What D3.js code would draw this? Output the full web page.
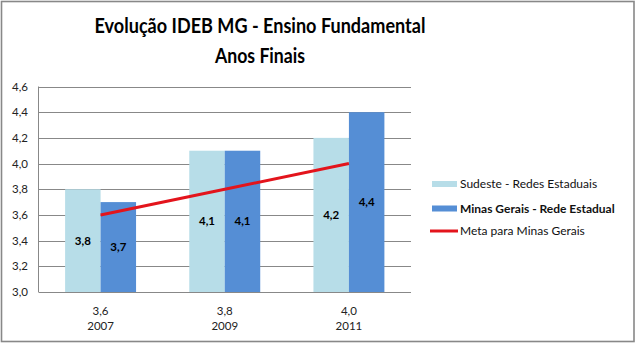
<!DOCTYPE html>
<html><head><meta charset="utf-8">
<script src="https://cdn.jsdelivr.net/npm/d3@7"></script>
<style>body{margin:0;background:#fff}svg{display:block}text{font-family:Lato,"Open Sans",sans-serif}</style>
</head><body>
<svg id="c" width="636" height="344"></svg>
<script>
const years = ["2007", "2009", "2011"];
const metaLabels = ["3,6", "3,8", "4,0"];
const sudeste = [3.8, 4.1, 4.2];
const minas = [3.7, 4.1, 4.4];
const meta = [3.6, 3.8, 4.0];
const yTicks = [3.0, 3.2, 3.4, 3.6, 3.8, 4.0, 4.2, 4.4, 4.6];
const seriesNames = ["Sudeste - Redes Estaduais", "Minas Gerais - Rede Estadual", "Meta para Minas Gerais"];
const titleLines = ["Evolução IDEB MG - Ensino Fundamental", "Anos Finais"];

const fmt = v => d3.format(".1f")(v).replace(".", ",");
const svg = d3.select("#c");
const m = {left: 38.5, right: 411, top: 86.5, bottom: 292};
const cLight = "#b7dde8", cDark = "#558ed5", cRed = "#e3141c", cGrid = "#888888";

svg.append("rect").attr("x", 1.5).attr("y", 1.5).attr("width", 632.5).attr("height", 340)
  .attr("fill", "#fff").attr("stroke", "#888").attr("stroke-width", 1.6);

const x = d3.scaleBand().domain(years).range([m.left, m.right]).paddingInner(0).paddingOuter(0);
const bw = x.bandwidth() / 3.5;
const y = d3.scaleLinear().domain([3.0, 4.6]).range([m.bottom, m.top]);

// gridlines
svg.append("g").selectAll("line").data(yTicks).join("line")
  .attr("x1", m.left).attr("x2", m.right)
  .attr("y1", d => Math.round(y(d)) + 0.5).attr("y2", d => Math.round(y(d)) + 0.5)
  .attr("stroke", cGrid).attr("stroke-width", 1);
svg.append("line").attr("x1", m.left).attr("x2", m.left).attr("y1", m.top).attr("y2", m.bottom)
  .attr("stroke", cGrid).attr("stroke-width", 1);

// y axis labels
svg.append("g").selectAll("text").data(yTicks).join("text")
  .attr("x", 28).attr("y", d => y(d)).attr("dy", "0.35em").attr("text-anchor", "end")
  .attr("font-size", 11.5).attr("fill", "#222").text(fmt);

// bars
const series = [{vals: sudeste, color: cLight, off: 0}, {vals: minas, color: cDark, off: 1}];
series.forEach(s => {
  const g = svg.append("g");
  g.selectAll("rect").data(years).join("rect")
    .attr("x", (d) => x(d) + x.bandwidth() / 2 - bw + s.off * bw)
    .attr("width", bw)
    .attr("y", (d, i) => y(s.vals[i]))
    .attr("height", (d, i) => y(3.0) - y(s.vals[i]))
    .attr("fill", s.color);
  g.selectAll("text").data(years).join("text")
    .attr("x", d => x(d) + x.bandwidth() / 2 - bw + s.off * bw + bw / 2)
    .attr("y", (d, i) => (y(s.vals[i]) + y(3.0)) / 2)
    .attr("dy", "0.35em").attr("text-anchor", "middle")
    .attr("font-size", 11.5).attr("font-weight", "bold").attr("fill", "#000")
    .text((d, i) => fmt(s.vals[i]));
});

// meta line
const line = d3.line().x((d, i) => x(years[i]) + x.bandwidth() / 2).y(d => y(d));
svg.append("path").datum(meta).attr("d", line).attr("fill", "none")
  .attr("stroke", cRed).attr("stroke-width", 3).attr("stroke-linecap", "butt");

// x labels
const xl = svg.append("g").selectAll("text").data(years).join("text")
  .attr("x", d => x(d) + x.bandwidth() / 2).attr("text-anchor", "middle")
  .attr("font-size", 11.5).attr("fill", "#222");
xl.append("tspan").attr("x", d => x(d) + x.bandwidth() / 2).attr("y", 315).text((d, i) => metaLabels[i]);
xl.append("tspan").attr("x", d => x(d) + x.bandwidth() / 2).attr("y", 330).text(d => d);

// title
svg.append("text").attr("x", 260).attr("y", 33).attr("text-anchor", "middle")
  .attr("font-size", 21.5).attr("font-weight", "bold").attr("fill", "#000")
  .attr("textLength", 331).attr("lengthAdjust", "spacingAndGlyphs").text(titleLines[0]);
svg.append("text").attr("x", 260).attr("y", 63).attr("text-anchor", "middle")
  .attr("font-size", 21.5).attr("font-weight", "bold").attr("fill", "#000")
  .attr("textLength", 90).attr("lengthAdjust", "spacingAndGlyphs").text(titleLines[1]);

// legend
const lg = svg.append("g");
lg.append("rect").attr("x", 432).attr("y", 181).attr("width", 25).attr("height", 6).attr("fill", cLight);
lg.append("rect").attr("x", 432).attr("y", 205.5).attr("width", 25).attr("height", 6).attr("fill", cDark);
lg.append("line").attr("x1", 430).attr("x2", 458).attr("y1", 231).attr("y2", 231).attr("stroke", cRed).attr("stroke-width", 3);
const ly = [184, 208.5, 231];
lg.selectAll("text.l").data(seriesNames).join("text").attr("class", "l")
  .attr("x", 460).attr("y", (d, i) => ly[i]).attr("dy", "0.35em")
  .attr("font-size", 12).attr("font-weight", (d, i) => i === 1 ? "bold" : "normal")
  .attr("fill", "#111").text(d => d);
</script>
</body></html>
